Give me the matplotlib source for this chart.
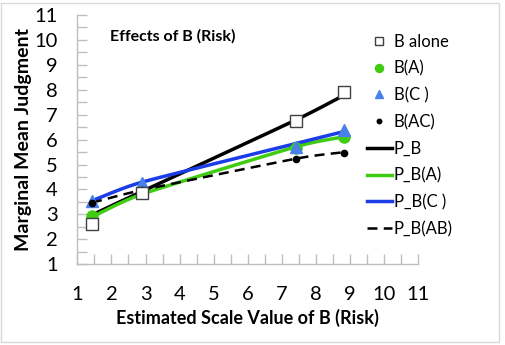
import numpy as np
import matplotlib
matplotlib.use("Agg")
import matplotlib.pyplot as plt
from matplotlib.patches import Rectangle

plt.rcParams['font.family'] = ['Lato', 'DejaVu Sans']

# Data
x_vals = [1.43, 2.91, 7.43, 8.84]
b_alone = [2.62, 3.87, 6.76, 7.92]
b_a = [2.94, 3.85, 5.65, 6.09]
b_c = [3.55, 4.25, 5.72, 6.38]
b_ac = [3.46, 3.98, 5.24, 5.48]

p_b = [2.98, 3.93, 6.80, 7.79]
p_b_a = [2.90, 3.82, 5.72, 6.12]
p_b_c = [3.55, 4.30, 5.85, 6.33]
p_b_ab = [3.47, 3.98, 5.24, 5.50]

xticks = list(range(1, 12))
yticks = list(range(1, 12))

GREEN = '#3fcc12'
BLUE_LINE = '#1a3de8'
BLUE_MARK = '#4a80ea'
GRAY = '#bfbfbf'


def smooth(xs, ys, n=30):
    # Catmull-Rom rendering of the curve through the points (like Excel smoothed lines)
    xs = np.asarray(xs, float); ys = np.asarray(ys, float)
    P = np.column_stack([xs, ys])
    P = np.vstack([2 * P[0] - P[1], P, 2 * P[-1] - P[-2]])
    out = []
    t = np.linspace(0, 1, n)
    for i in range(1, len(P) - 2):
        p0, p1, p2, p3 = P[i - 1], P[i], P[i + 1], P[i + 2]
        m1 = (p2 - p0) / 2 * 0.6
        m2 = (p3 - p1) / 2 * 0.6
        h00 = 2 * t**3 - 3 * t**2 + 1
        h10 = t**3 - 2 * t**2 + t
        h01 = -2 * t**3 + 3 * t**2
        h11 = t**3 - t**2
        seg = (np.outer(h00, p1) + np.outer(h10, m1) + np.outer(h01, p2) + np.outer(h11, m2))
        out.append(seg if i == 1 else seg[1:])
    s = np.vstack(out)
    return s[:, 0], s[:, 1]


fig = plt.figure(figsize=(5.06, 3.45), dpi=100)
ax = fig.add_axes([0.153, 0.234, 0.673, 0.7225])

ax.plot(x_vals, b_alone, linestyle='none', marker='s', markersize=8.5,
        markerfacecolor='white', markeredgecolor='#404040', markeredgewidth=1.0,
        label='B alone', zorder=5)
ax.plot(x_vals, b_a, linestyle='none', marker='o', markersize=8,
        color=GREEN, label='B(A)', zorder=4)
ax.plot(x_vals, b_c, linestyle='none', marker='^', markersize=8,
        color=BLUE_MARK, label='B(C )', zorder=4)
ax.plot(x_vals, b_ac, linestyle='none', marker='o', markersize=4.5,
        color='black', label='B(AC)', zorder=4)

sx, sy = smooth(x_vals, p_b)
ax.plot(sx, sy, color='black', lw=2.5, label='P_B', zorder=3)
sx, sy = smooth(x_vals, p_b_a)
ax.plot(sx, sy, color=GREEN, lw=2.5, label='P_B(A)', zorder=3)
sx, sy = smooth(x_vals, p_b_c)
ax.plot(sx, sy, color=BLUE_LINE, lw=2.5, label='P_B(C )', zorder=3)
sx, sy = smooth(x_vals, p_b_ab)
ax.plot(sx, sy, color='black', lw=1.8, linestyle=(0, (4, 2.5)), label='P_B(AB)', zorder=3)

ax.set_xlim(1, 11)
ax.set_ylim(1, 11)
ax.set_xticks(xticks)
ax.set_yticks(yticks)
ax.set_xticks(np.arange(1.5, 11, 1), minor=True)
ax.set_yticks(np.arange(1.5, 11, 1), minor=True)
ax.tick_params(axis='both', which='both', direction='in', color=GRAY, width=1)
ax.tick_params(axis='both', which='major', length=7, labelsize=14.5)
ax.tick_params(axis='both', which='minor', length=7)
ax.tick_params(axis='y', pad=14)
ax.tick_params(axis='x', pad=16)
for sp in ['top', 'right']:
    ax.spines[sp].set_visible(False)
for sp in ['left', 'bottom']:
    ax.spines[sp].set_color(GRAY)
    ax.spines[sp].set_linewidth(1)

ax.set_xlabel('Estimated Scale Value of B (Risk)', fontsize=13, fontweight='bold', labelpad=4)
ax.set_ylabel('Marginal Mean Judgment', fontsize=14, fontweight='bold', labelpad=2)

ax.text(0.095, 0.915, 'Effects of B (Risk)', transform=ax.transAxes,
        fontsize=11.5, fontweight='bold', va='center', ha='left')

leg = fig.legend(loc='upper left', bbox_to_anchor=(0.712, 0.922), frameon=False,
                 fontsize=12, handlelength=1.5, handletextpad=0.1,
                 labelspacing=0.64, borderaxespad=0, markerscale=0.72)

fig.patches.append(Rectangle((0.002, 0.008), 0.985, 0.983, transform=fig.transFigure,
                             fill=False, edgecolor='#d9d9d9', lw=1))

fig.savefig('out.png', dpi=100)
